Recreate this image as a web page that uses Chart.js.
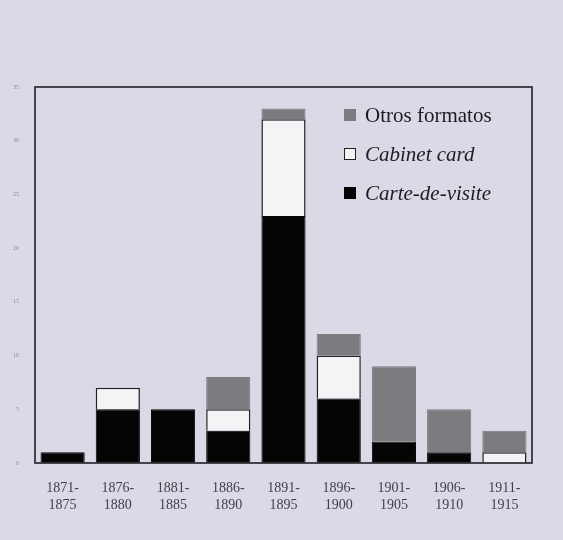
<!DOCTYPE html>
<html>
<head>
<meta charset="utf-8">
<script src="https://cdn.jsdelivr.net/npm/chart.js@4.4.1/dist/chart.umd.min.js"></script>
<style>
    html, body { margin: 0; padding: 0; background: #d9dae6; }
    #wrap { position: relative; width: 563px; height: 540px; }
    .legend { position: absolute; left: 344px; top: 104px; font-family: "Liberation Serif", "DejaVu Serif", serif; font-size: 21px; color: #1c1c22; }
    .legend div { height: 39px; line-height: 22px; white-space: nowrap; }
    .legend span.box { display: inline-block; width: 12px; height: 12px; margin-right: 9px; vertical-align: 1px; box-sizing: border-box; }
    .legend i { font-style: italic; }
</style>
</head>
<body>
<div id="wrap">
    <canvas id="chart" width="563" height="540"></canvas>
    <div class="legend">
        <div><span class="box" style="background:#7b7b80"></span>Otros formatos</div>
        <div><span class="box" style="background:#f4f4f6;border:1.5px solid #222"></span><i>Cabinet card</i></div>
        <div><span class="box" style="background:#050505"></span><i>Carte-de-visite</i></div>
    </div>
</div>
<script>
// Periods and counts per photo format
const periods = [['1871-', '1875'], ['1876-', '1880'], ['1881-', '1885'], ['1886-', '1890'], ['1891-', '1895'],
    ['1896-', '1900'], ['1901-', '1905'], ['1906-', '1910'], ['1911-', '1915']];
const carteDeVisite = [1, 5, 5, 3, 23, 6, 2, 1, 0];
const cabinetCard = [0, 2, 0, 2, 9, 4, 0, 0, 1];
const otrosFormatos = [0, 0, 0, 3, 1, 2, 7, 4, 2];
const yTicks = [0, 5, 10, 15, 20, 25, 30, 35];

// Box round the plot area
const frameBox = {
    id: 'frameBox',
    afterDatasetsDraw(chart) {
        const { ctx, chartArea: a } = chart;
        ctx.save();
        ctx.strokeStyle = '#34343c';
        ctx.lineWidth = 1.8;
        ctx.strokeRect(a.left, a.top, a.right - a.left, a.bottom - a.top);
        ctx.restore();
    }
};

new Chart(document.getElementById('chart'), {
    type: 'bar',
    data: {
        labels: periods,
        datasets: [{
            label: 'Carte-de-visite',
            data: carteDeVisite,
            backgroundColor: '#050505',
            borderColor: '#050505',
            borderWidth: 1
        }, {
            label: 'Cabinet card',
            data: cabinetCard,
            backgroundColor: '#f4f4f6',
            borderColor: '#222',
            borderWidth: 1.5
        }, {
            label: 'Otros formatos',
            data: otrosFormatos,
            backgroundColor: '#7b7b80',
            borderColor: '#7b7b80',
            borderWidth: 1
        }]
    },
    options: {
        responsive: false,
        animation: false,
        barPercentage: 0.8,
        categoryPercentage: 1,
        layout: { padding: { top: 87, right: 31, bottom: 0, left: 0 } },
        plugins: {
            legend: { display: false },
            tooltip: { enabled: false }
        },
        scales: {
            x: {
                stacked: true,
                grid: { display: false },
                border: { display: false },
                ticks: {
                    color: '#40404a',
                    font: { family: '"Liberation Serif", serif', size: 14 },
                    maxRotation: 0,
                    padding: 9
                },
                afterFit(scale) { scale.height = 77; }
            },
            y: {
                stacked: true,
                min: 0,
                max: 35,
                afterBuildTicks(scale) { scale.ticks = yTicks.map(v => ({ value: v })); },
                grid: { display: false },
                border: { display: false },
                ticks: {
                    color: '#8a8a98',
                    font: { family: '"Liberation Serif", serif', size: 6 },
                    padding: 8
                },
                afterFit(scale) { scale.width = 35; }
            }
        }
    },
    plugins: [frameBox]
});
</script>
</body>
</html>
